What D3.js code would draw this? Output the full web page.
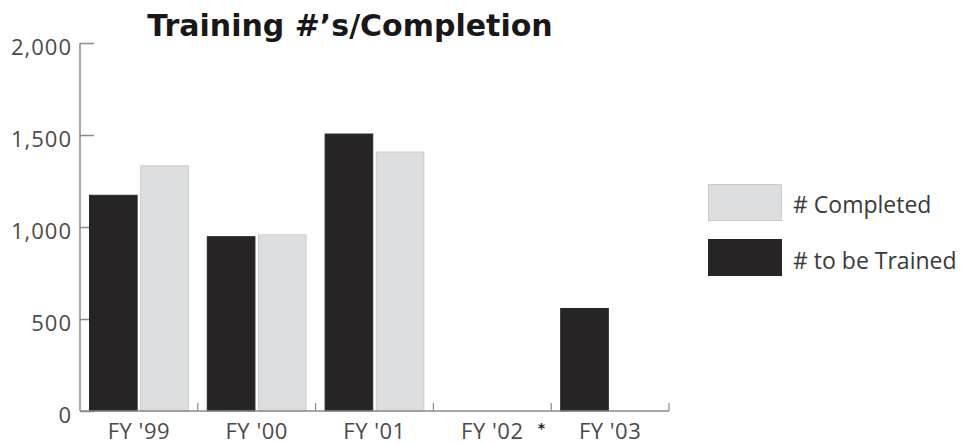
<!DOCTYPE html>
<html><head><meta charset="utf-8">
<script src="https://cdn.jsdelivr.net/npm/d3@7"></script>
<style>body{margin:0;background:#fff;}svg{display:block;}</style>
</head><body>
<svg id="c" width="964" height="444"></svg>
<script>
const categories = ["FY '99", "FY '00", "FY '01", "FY '02", "FY '03"];
const seriesNames = ["# to be Trained", "# Completed"];
const toBeTrained = [1175, 950, 1508, null, 560];
const completed = [1335, 960, 1410, null, null];
const yTicks = [0, 500, 1000, 1500, 2000];
const title = "Training #\u2019s/Completion";

(function () {
const colors = {"# to be Trained": "#272425", "# Completed": "#dcdee0"};
const strokes = {"# to be Trained": "#272425", "# Completed": "#c9cbcd"};

const svg = d3.select("#c");
const pL = 80, pR = 669, pT = 43, pB = 411;

const x0 = d3.scaleBand().domain(categories).range([pL, pR]).padding(0);
const x1 = d3.scaleBand().domain(seriesNames).range([9, x0.bandwidth() - 9]).paddingInner(0.05);
const y = d3.scaleLinear().domain([0, 2000]).range([pB, pT]);

// Y axis
const yAxis = d3.axisRight(y).tickValues(yTicks).tickSize(14).tickFormat("");
const ya = svg.append("g").attr("transform", `translate(${pL},0)`).call(yAxis);
ya.select(".domain").attr("stroke", "#8a8a8a").attr("stroke-width", 1.5)
  .attr("d", `M0,${pT}V${pB}`);
ya.selectAll(".tick line").attr("stroke", "#8a8a8a").attr("stroke-width", 1.5);
svg.append("g").selectAll("text").data(yTicks).join("text")
  .attr("x", 72).attr("y", d => y(d) + 11.5).attr("text-anchor", "end")
  .attr("font-family", "'Open Sans', sans-serif").attr("font-size", 22)
  .attr("letter-spacing", 1)
  .attr("fill", "#4a4a4a").text(d => d3.format(",")(d));

// Title
svg.append("text").attr("x", 350).attr("y", 36).attr("text-anchor", "middle")
  .attr("font-family", "'DejaVu Sans', sans-serif").attr("font-weight", "bold")
  .attr("font-size", 30).attr("fill", "#1a1718").text(title);

// bars
const data = categories.map((c, i) => ({cat: c, vals: [
  {s: seriesNames[0], v: toBeTrained[i]}, {s: seriesNames[1], v: completed[i]}]}));
const g = svg.append("g");
data.forEach(d => {
  d.vals.filter(e => e.v != null).forEach(e => {
    g.append("rect")
      .attr("x", x0(d.cat) + x1(e.s) + 0.5)
      .attr("y", y(e.v) + 0.5)
      .attr("width", x1.bandwidth() - 1)
      .attr("height", y(0) - y(e.v) - 0.5)
      .attr("fill", colors[e.s]).attr("stroke", strokes[e.s]).attr("stroke-width", 1);
  });
});

// X axis
const xa = svg.append("g").attr("transform", `translate(0,${pB})`);
xa.append("line").attr("x1", pL).attr("x2", pR).attr("stroke", "#8a8a8a").attr("stroke-width", 1.5);
xa.selectAll("line.t").data(categories).join("line").attr("class", "t")
  .attr("x1", d => x0(d) + x0.bandwidth()).attr("x2", d => x0(d) + x0.bandwidth())
  .attr("y1", 0).attr("y2", -8).attr("stroke", "#8a8a8a").attr("stroke-width", 1.2);
xa.selectAll("text").data(categories).join("text")
  .attr("x", d => x0(d) + x0.bandwidth() / 2).attr("y", 28).attr("text-anchor", "middle")
  .attr("font-family", "'Open Sans', sans-serif").attr("font-size", 22)
  .attr("letter-spacing", 0.5)
  .attr("fill", "#4a4a4a").text(d => d);
xa.append("text").attr("x", x0("FY '02") + x0.bandwidth() / 2 + 49).attr("y", 22)
  .attr("text-anchor", "middle").attr("font-family", "'DejaVu Sans', sans-serif")
  .attr("font-size", 14).attr("font-weight", "bold").attr("fill", "#222").text("*");

// Legend
const legendItems = [seriesNames[1], seriesNames[0]];
const lg = svg.append("g").attr("transform", "translate(708,184)");
legendItems.forEach((s, i) => {
  lg.append("rect").attr("x", 0.5).attr("y", i * 55 + 0.5).attr("width", 73).attr("height", 36)
    .attr("fill", colors[s]).attr("stroke", strokes[s]);
  lg.append("text").attr("x", 85).attr("y", i * 56 + 29)
    .attr("font-family", "'Open Sans', sans-serif").attr("font-size", 23)
    .attr("fill", "#3a3a3a").text(s);
});
})();
</script>
</body></html>
